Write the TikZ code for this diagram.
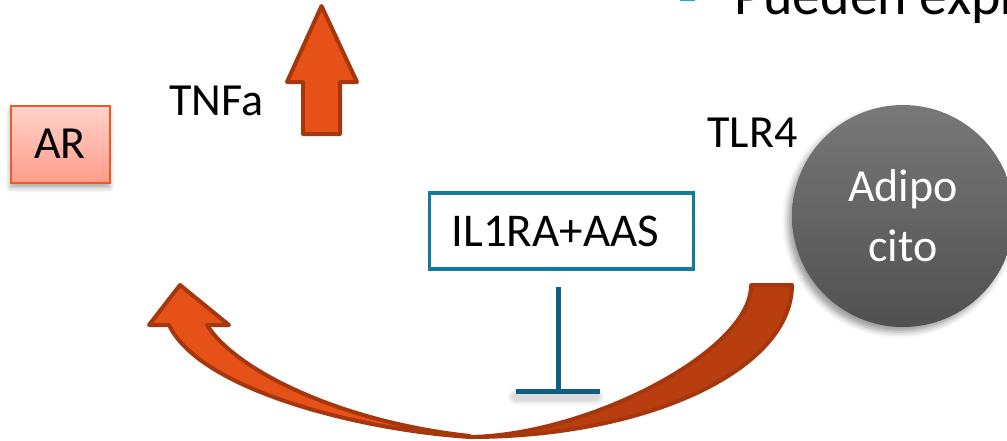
\documentclass[tikz,border=0pt]{standalone}
\usepackage{fontspec}
\setmainfont{Carlito}
\usepackage{tikz}
\usetikzlibrary{arrows.meta, shadows.blur}
\definecolor{cOrange}{RGB}{230,81,24}
\definecolor{cRust}{RGB}{184,62,16}
\definecolor{cRustEdge}{RGB}{166,55,12}
\definecolor{cPinkTop}{RGB}{255,212,202}
\definecolor{cPinkBot}{RGB}{255,156,138}
\definecolor{cPinkEdge}{RGB}{240,88,36}
\definecolor{cTeal}{RGB}{18,122,154}
\definecolor{cTealDark}{RGB}{16,94,128}
\definecolor{cGreyTop}{RGB}{120,120,120}
\definecolor{cGreyBot}{RGB}{80,80,80}
\definecolor{cBullet}{RGB}{20,166,230}
\tikzset{
	lbl/.style    ={inner sep=0pt, anchor=base west, font=\fontsize{23}{29}\selectfont},
	agent/.style  ={rectangle, draw=cPinkEdge, line width=1pt, top color=cPinkTop, bottom color=cPinkBot, minimum width=49.5pt, minimum height=38.5pt, inner sep=0pt, font=\fontsize{23}{29}\selectfont,
	                blur shadow={shadow xshift=0pt, shadow yshift=-2.5pt, shadow opacity=35, shadow blur radius=2.5pt}},
	drug/.style   ={rectangle, draw=cTeal, line width=1.8pt, fill=white, text width=110pt, align=left, inner xsep=11pt, minimum height=38pt, font=\fontsize{23.5}{29}\selectfont},
	cell/.style   ={circle, minimum size=111pt, inner sep=0pt, top color=cGreyTop, bottom color=cGreyBot, text=white, align=center, font=\fontsize{23}{30}\selectfont,
	                blur shadow={shadow xshift=-2pt, shadow yshift=-2.5pt, shadow opacity=40, shadow blur radius=3pt}},
	% block arrows
	fatarrow/.style={fill=cOrange, draw=cRustEdge, line width=2pt, line join=round},
	backband/.style={fill=cRust, draw=cRustEdge, line width=2pt, line join=round},
	inhib/.style  ={draw=cTealDark, line width=2.5pt, -{Bar[width=42pt]}},
}
\begin{document}
\begin{tikzpicture}[x=0.5pt, y=-0.5pt]
	\useasboundingbox (0,0) rectangle (1007,440);
	\clip (0,0) rectangle (1007,440);
	% heading line running off the frame
	\fill[cBullet] (680,-3) rectangle (695,1);
	\node[lbl, font=\fontsize{28}{32}\selectfont] (head) at (734,14) {Pueden expr};
	\node[agent] (ar) at (60,144) {AR};
	\node[lbl] (tnf) at (169,115) {TNFa};
	\node[lbl] (tlr) at (707,147) {TLR4};
	\node[cell] (adipo) at (903,216) {Adipo\\cito};
	\node[drug] (il) at (561.5,231) {IL1RA+AAS};
	% TNFa goes up
	\path[fatarrow] (303,134) -- (303,82) -- (287,82) -- (321.5,6) -- (357,82) -- (340,82) -- (340,134) -- cycle;
	% curved arrow from the adipocyte back to AR
	\path[backband] (792,285) .. controls (792,369) and (648,437) .. (470,437)
		.. controls (590,435) and (752,350) .. (751,285) -- cycle;
	\path[fatarrow] (470,437) .. controls (360,430) and (200,390) .. (169,325)
		-- (149,325) -- (180,285) -- (229,325) -- (207,325)
		.. controls (235,370) and (340,422) .. (470,436) -- cycle;
	% blocking
	\coordinate (blkTop) at (558,287);
	\coordinate (blkEnd) at (558,394);
	\foreach \w/\o in {8pt/0.04, 6pt/0.05, 4pt/0.06}
		\draw[black, opacity=\o, line width=\w, line cap=round] (516,397) -- (596,397);
	\draw[inhib] (blkTop) -- (blkEnd);
\end{tikzpicture}
\end{document}
